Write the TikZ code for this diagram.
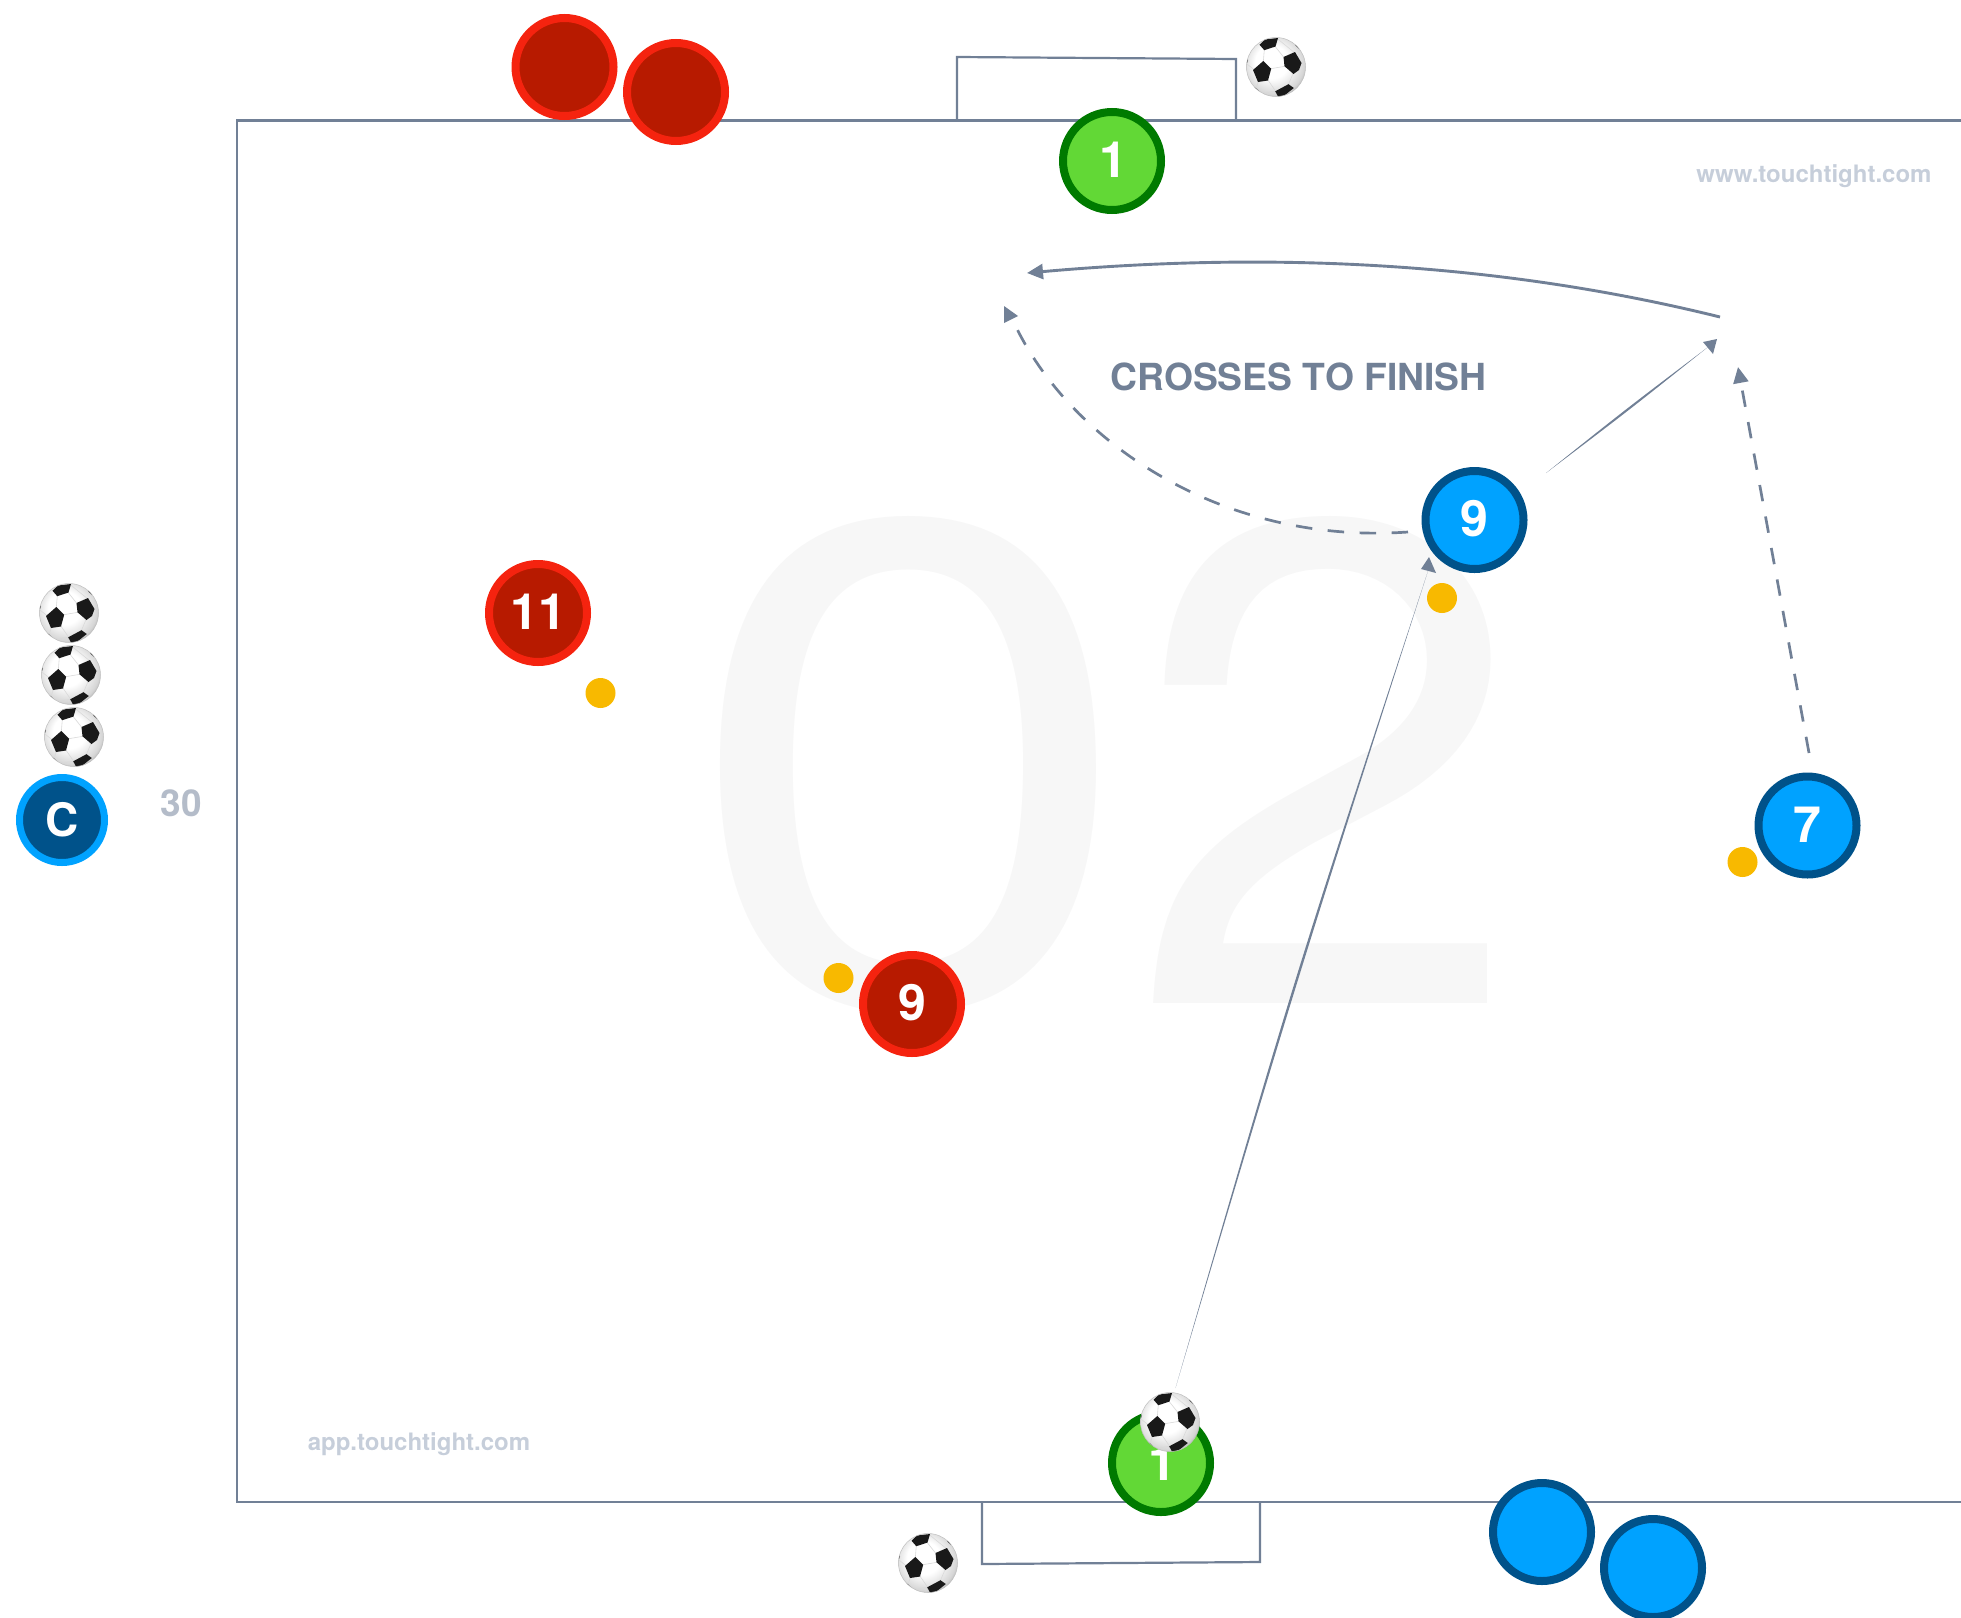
\documentclass[tikz,border=0pt]{standalone}
\usepackage{fontspec}
\setmainfont{TeX Gyre Heros}
\usetikzlibrary{arrows.meta}
\definecolor{slate}{HTML}{718096}
\definecolor{wm}{HTML}{C6CEDA}
\definecolor{cnt}{HTML}{B4BCC9}
\definecolor{bg02}{HTML}{F7F7F7}
\definecolor{redfill}{HTML}{B71A00}
\definecolor{redline}{HTML}{F5230F}
\definecolor{bluefill}{HTML}{00A2FF}
\definecolor{blueline}{HTML}{00528A}
\definecolor{greenfill}{HTML}{62D836}
\definecolor{greenline}{HTML}{007A00}
\definecolor{mark}{HTML}{F8B900}
\pgfdeclareradialshading{ballshade}{\pgfpoint{-5bp}{6bp}}{color(0bp)=(white);color(14bp)=(white);color(26bp)=(black!16);color(32bp)=(black!40);color(50bp)=(black!40)}
\tikzset{
  x=1pt,y=-1pt,
  player/.style={circle,draw,line width=8pt,minimum size=98pt,inner sep=0pt,outer sep=0pt,text=white,font=\fontsize{50}{50}\selectfont\bfseries},
  redp/.style={player,fill=redfill,draw=redline},
  bluep/.style={player,fill=bluefill,draw=blueline},
  greenp/.style={player,fill=greenfill,draw=greenline},
  coachp/.style={player,fill=blueline,draw=bluefill,minimum size=85pt,line width=7pt},
  spot/.style={circle,fill=mark,minimum size=30pt,inner sep=0pt,outer sep=0pt},
  wmark/.style={text=wm,font=\fontsize{24}{24}\selectfont\bfseries,inner sep=0pt},
  bigdigit/.style={text=bg02,inner sep=0pt,anchor=base,font=\fontsize{687}{687}\selectfont},
  pitch/.style={draw=slate,line width=2.7pt},
  goal/.style={draw=slate,line width=2.2pt},
  tip/.style={-{Triangle[length=16pt,width=15pt]}},
  run/.style={draw=slate,line width=2.7pt,dash pattern=on 16.5pt off 15.5pt},
  runtip/.style={draw=slate,line width=2.7pt,dash pattern=on 16.5pt off 15.5pt,tip},
  head/.style={fill=slate},
  taper/.style={fill=slate,draw=none},
  curved/.style={draw=slate,line width=2.9pt,tip},
  pics/ball/.style={code={
    \begin{scope}
    \clip (0,0) circle (29.5);
    \shade[shading=ballshade] (0,0) circle (29.5);
    \draw[black!15,line width=.6pt] (9,-.7)--(-5.3,1.7) (-11.7,-17.3)--(-12.7,-5) (-1,-20.7)--(8.3,-9)
      (-8.3,12.7)--(-.3,24.3) (17.3,6)--(12.3,17.7) (-17.7,14.3)--(-20,22) (-.3,24.3)--(-14,26)
      (-22,2.7)--(-29,-3) (24.7,-4)--(30,-3) (1.7,-28)--(19,-14);
    \fill[black!90] (7.5,-10)--(19,-15)--(25.5,-4)--(23,3)--(17.5,7)--(8.5,-.7)--cycle;
    \fill[black!90] (-23,3)--(-12.7,-6)--(-4.8,1.7)--(-8,13.5)--(-18,15)--cycle;
    \fill[black!90] (-16.5,-22.3)--(-11,-27.5)--(2,-29)--(-.5,-20.5)--(-11.7,-16.8)--cycle;
    \fill[black!90] (-.8,24.3)--(12.5,17.2)--(17.8,21)--(9,28)--(2.3,30)--cycle;
    \fill[black!90] (19,-22)--(23,-18)--(26,-20)--(21,-25)--cycle;
    \fill[black!90] (-29,-4)--(-28,-7)--(-30,-9)--(-31,-4)--cycle;
    \fill[black!90] (-22,20)--(-19,22)--(-17,24)--(-24,24)--cycle;
    \end{scope}
    \draw[black!25,line width=.5pt] (0,0) circle (29.5);
  }}
}
\begin{document}
\begin{tikzpicture}
\useasboundingbox (0,0) rectangle (1961,1617);
\node[bigdigit,xscale=1.18] (bigzero) at (911,1003) {0};
\node[bigdigit,xscale=1.03] (bigtwo) at (1326.5,1003) {2};
% pitch
\draw[pitch] (1961,120.5) -| (237,1502) -- (1961,1502);
\draw[goal] (957,120.5) -- (957,57) -- (1236,59) -- (1236,120.5);
\draw[goal] (982,1502) -- (982,1564) -- (1260,1562) -- (1260,1502);
% texts
\node[wmark] (wwwmark) at (1814,176) {www.touchtight.com};
\node[wmark] (appmark) at (419,1444) {app.touchtight.com};
\node[text=cnt,inner sep=0pt,font=\fontsize{37}{37}\selectfont\bfseries] (count) at (181.5,803) {30};
\node[text=slate,inner sep=0pt,font=\fontsize{37.3}{37.3}\selectfont\bfseries] (title) at (1298.5,377) {CROSSES TO FINISH};
% spots
\node[spot] (s1) at (600.5,693) {};
\node[spot] (s2) at (838.5,978) {};
\node[spot] (s3) at (1442,598) {};
\node[spot] (s4) at (1742.5,862) {};
% players
\node[redp] (ra) at (564.5,67) {};
\node[redp] (rb) at (676,92) {};
\node[redp] (r11) at (538,613) {\raisebox{3pt}{11}};
\node[redp] (r9) at (912,1004) {\raisebox{4pt}{9}};
\node[greenp] (gtop) at (1112,161) {\hspace{3pt}\raisebox{2.5pt}{1}};
\node[greenp] (gbot) at (1161,1463) {\hspace{3pt}\raisebox{1pt}{1}};
\node[bluep] (b9) at (1474.5,520) {\raisebox{3.5pt}{9}};
\node[bluep] (b7) at (1807.5,825.5) {\raisebox{2pt}{7}};
\node[bluep] (ba) at (1542,1532) {};
\node[bluep] (bb) at (1653,1568) {};
\node[coachp] (coach) at (62,820) {\fontsize{46}{46}\selectfont C};
% connectors
\coordinate (c1s) at (1720,317); \coordinate (c1e) at (1027,273);
\coordinate (c2s) at (1408,532); \coordinate (c2e) at (1017,329);
\coordinate (c2a) at (1004,306); \coordinate (c2b) at (1018,316); \coordinate (c2c) at (1004,323);
\coordinate (c3s) at (1546,473); \coordinate (c3e) at (1708,347);
\coordinate (c3a) at (1717,339); \coordinate (c3b) at (1703,342); \coordinate (c3c) at (1713,354);
\coordinate (c4s) at (1809,753); \coordinate (c4e) at (1738,367);
\coordinate (c5s) at (1175.5,1388); \coordinate (c5e) at (1428,571);
\coordinate (c5a) at (1429,557); \coordinate (c5b) at (1421,569); \coordinate (c5c) at (1436,573);
\draw[curved] (c1s) .. controls (1510,265) and (1285,250) .. (c1e);
\draw[run] (c2s) .. controls (1225,545) and (1075,445) .. (c2e);
\fill[head] (c2a) -- (c2b) -- (c2c) -- cycle;
\fill[taper] (c3s) .. controls (1626,409) .. (c3e) .. controls (1628,411) .. (c3s);
\fill[head] (c3a) -- (c3b) -- (c3c) -- cycle;
\draw[runtip] (c4s) -- (c4e);
\fill[taper] (c5s) .. controls (1294,978) .. (c5e) .. controls (1297,979) .. (c5s);
\fill[head] (c5a) -- (c5b) -- (c5c) -- cycle;
% balls
\pic at (1276,67) {ball};
\pic at (69,613) {ball};
\pic at (71,675) {ball};
\pic at (74,737) {ball};
\pic at (1170,1422) {ball};
\pic at (928,1563) {ball};
\end{tikzpicture}
\end{document}
